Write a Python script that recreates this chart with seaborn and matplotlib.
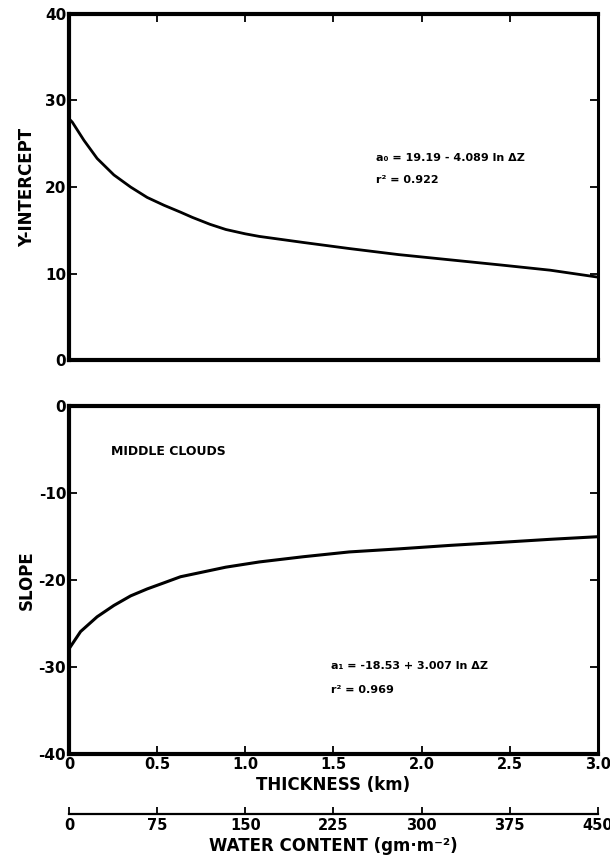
import matplotlib
matplotlib.use("Agg")
import matplotlib.pyplot as plt
import seaborn as sns
import pandas as pd

# values
thickness_top = [0.0, 0.019, 0.085, 0.16, 0.255, 0.35, 0.444, 0.539, 0.633, 0.70, 0.80, 0.89,
                 1.0, 1.08, 1.33, 1.59, 1.87, 2.16, 2.45, 2.73, 3.0]
intercept = [27.9, 27.5, 25.4, 23.3, 21.4, 20.0, 18.8, 17.9, 17.1, 16.5, 15.7, 15.1,
             14.6, 14.3, 13.6, 12.9, 12.2, 11.6, 11.0, 10.4, 9.6]

thickness_bot = [0.0, 0.066, 0.16, 0.255, 0.35, 0.444, 0.539, 0.633, 0.75, 0.89,
                 1.08, 1.33, 1.59, 1.87, 2.16, 2.45, 2.73, 3.0]
slope = [-27.9, -25.9, -24.2, -22.9, -21.8, -21.0, -20.3, -19.6, -19.1, -18.5,
         -17.9, -17.3, -16.75, -16.4, -16.0, -15.65, -15.3, -15.0]

x_ticks = [0, 0.5, 1.0, 1.5, 2.0, 2.5, 3.0]
x_ticklabels = ["0", "0.5", "1.0", "1.5", "2.0", "2.5", "3.0"]
water_ticks = [0, 75, 150, 225, 300, 375, 450]
top_yticks = [0, 10, 20, 30, 40]
bot_yticks = [-40, -30, -20, -10, 0]

sns.set_style("ticks")
plt.rcParams["font.family"] = ["DejaVu Sans"]
plt.rcParams["font.weight"] = "bold"
for key in ["text.color", "axes.edgecolor", "axes.labelcolor", "xtick.color", "ytick.color"]:
    plt.rcParams[key] = "black"

fig = plt.figure(figsize=(6.1, 8.66), dpi=100)
ax1 = fig.add_axes([0.113, 0.584, 0.867, 0.400])
ax2 = fig.add_axes([0.113, 0.129, 0.867, 0.402])

df_top = pd.DataFrame({"t": thickness_top, "v": intercept})
df_bot = pd.DataFrame({"t": thickness_bot, "v": slope})
sns.lineplot(data=df_top, x="t", y="v", ax=ax1, color="black", lw=2.0)
sns.lineplot(data=df_bot, x="t", y="v", ax=ax2, color="black", lw=2.2)

for ax, yt in [(ax1, top_yticks), (ax2, bot_yticks)]:
    ax.set_xlim(0, 3.0)
    ax.set_ylim(yt[0], yt[-1])
    ax.set_yticks(yt)
    ax.set_yticklabels([str(v) for v in yt], fontsize=11, fontweight="bold")
    ax.set_xticks(x_ticks)
    for side in ["left", "bottom", "top"]:
        ax.spines[side].set_linewidth(3.0)
    ax.spines["right"].set_linewidth(2.2)
    ax.tick_params(direction="in", length=6, width=1.3, right=True, pad=2)
    ax.set_xlabel("")

ax1.tick_params(axis="x", top=True, bottom=False, labelbottom=False)
ax2.tick_params(axis="x", top=False, bottom=True)
ax2.set_xticklabels(x_ticklabels, fontsize=10.5, fontweight="bold")
ax1.set_ylabel("Y-INTERCEPT", fontsize=12, fontweight="bold", labelpad=6)
ax2.set_ylabel("SLOPE", fontsize=12, fontweight="bold", labelpad=2)
ax2.set_xlabel("THICKNESS (km)", fontsize=12, fontweight="bold", labelpad=3)

# water content scale under the thickness axis
sec = ax2.secondary_xaxis(-0.172, functions=(lambda x: x * 150, lambda x: x / 150))
sec.set_xticks(water_ticks)
sec.set_xticklabels([str(v) for v in water_ticks], fontsize=10.5, fontweight="bold")
sec.spines["bottom"].set_linewidth(1.6)
sec.tick_params(direction="in", length=5, width=1.3, pad=3)
sec.set_xlabel("WATER CONTENT (gm·m⁻²)", fontsize=12, fontweight="bold", labelpad=3)

ax1.text(0.58, 0.585, "a₀ = 19.19 - 4.089 ln ΔZ", transform=ax1.transAxes,
         fontsize=8, fontweight="bold", va="center")
ax1.text(0.58, 0.52, "r² = 0.922", transform=ax1.transAxes,
         fontsize=8, fontweight="bold", va="center")

ax2.text(0.08, 0.87, "MIDDLE CLOUDS", transform=ax2.transAxes,
         fontsize=9, fontweight="bold", va="center")
ax2.text(0.495, 0.255, "a₁ = -18.53 + 3.007 ln ΔZ", transform=ax2.transAxes,
         fontsize=8, fontweight="bold", va="center")
ax2.text(0.495, 0.185, "r² = 0.969", transform=ax2.transAxes,
         fontsize=8, fontweight="bold", va="center")

fig.savefig("out.png", dpi=100)
